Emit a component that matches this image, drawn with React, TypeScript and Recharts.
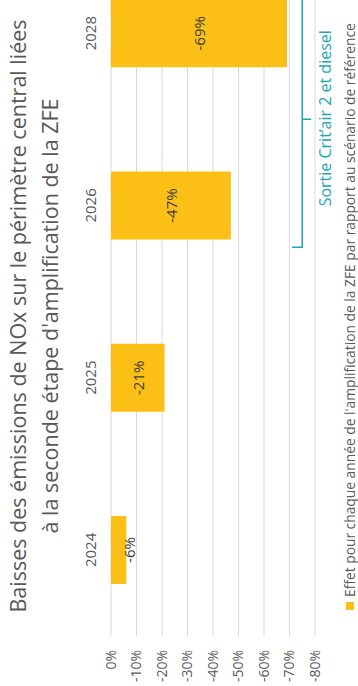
import React from "react";
import { BarChart, Bar, XAxis, YAxis, CartesianGrid } from "recharts";

const years = ["2024", "2025", "2026", "2028"];
const effects = [-6, -21, -47, -69];
const yTicks = [0, -10, -20, -30, -40, -50, -60, -70, -80];

const titleLines = [
  "Baisses des émissions de NOx sur le périmètre central liées",
  "à la seconde étape d'amplification de la ZFE",
];
const legendText =
  "Effet pour chaque année de l'amplification de la ZFE par rapport au scénario de référence";
const noteText = "Sortie Crit’air 2 et diesel";

const data = years.map((year, i) => ({ year, effect: effects[i] }));

// chart is drawn unrotated (W x H) and turned -90deg to fit the 358x686 frame
const W = 750;
const H = 358;
const FONT = "'Open Sans', sans-serif";
const GREY = "#595959";
const YELLOW = "#FBBF16";
const TEAL = "#1BA6B3";

const margin = { top: 81, right: 11, bottom: 43, left: 0 };
const xAxisHeight = 30;
const yAxisWidth = 50;
const plotLeft = margin.left + yAxisWidth;
const plotTop = margin.top + xAxisHeight;
const plotRight = W - margin.right;
const plotBottom = H - margin.bottom;
const band = (plotRight - plotLeft) / years.length;
const yOf = (v: number) => plotTop + (v / -80) * (plotBottom - plotTop);

function BarValue(props: any) {
  const { x, y, width, height, value } = props;
  const top = Math.min(y, y + height);
  const bottom = Math.max(y, y + height);
  const cy = Math.max((top + bottom) / 2, top + 18);
  return (
    <text
      x={x + width / 2}
      y={cy}
      textAnchor="middle"
      dominantBaseline="central"
      fontSize={15}
      fontFamily={FONT}
      fill="#404040"
    >
      {`${value}%`}
    </text>
  );
}

export default function App() {
  // bracket across the 2026 and 2028 bars
  const mid = plotLeft + 3 * band;
  const half = 128;
  const lineY = yOf(-75);
  return (
    <div
      style={{
        position: "absolute",
        left: 0,
        top: 0,
        width: 358,
        height: 686,
        overflow: "hidden",
        background: "#fff",
      }}
    >
      <div
        style={{
          position: "absolute",
          left: 0,
          top: 0,
          width: W,
          height: H,
          transformOrigin: "0 0",
          transform: "translateY(686px) rotate(-90deg)",
          fontFamily: FONT,
        }}
      >
        {titleLines.map((line, i) => (
          <div
            key={i}
            style={{
              position: "absolute",
              left: 0,
              width: 740,
              top: 2 + i * 32,
              lineHeight: "32px",
              fontSize: 21.5,
              color: GREY,
              textAlign: "center",
              whiteSpace: "nowrap",
            }}
          >
            {line}
          </div>
        ))}
        <BarChart width={W} height={H} data={data} margin={margin}>
          <CartesianGrid vertical={false} stroke="#D9D9D9" />
          <XAxis
            dataKey="year"
            orientation="top"
            height={xAxisHeight}
            axisLine={false}
            tickLine={false}
            tickSize={0}
            tickMargin={15}
            tick={{ fontSize: 15, fill: GREY, fontFamily: FONT }}
          />
          <YAxis
            width={yAxisWidth}
            domain={[-80, 0]}
            ticks={yTicks}
            axisLine={false}
            tickLine={false}
            tickSize={0}
            tickMargin={14}
            tickFormatter={(v: number) => `${v}%`}
            tick={{ fontSize: 14, fill: GREY, fontFamily: FONT }}
          />
          <Bar
            dataKey="effect"
            fill={YELLOW}
            barSize={68}
            isAnimationActive={false}
            label={<BarValue />}
          />
        </BarChart>
        <svg
          width={W}
          height={H}
          style={{ position: "absolute", left: 0, top: 0, pointerEvents: "none" }}
        >
          <path
            d={`M${mid - half},${yOf(-71)} V${lineY} H${mid + half} V${yOf(-71)} M${mid},${lineY} V${yOf(-78.5)}`}
            fill="none"
            stroke={TEAL}
            strokeWidth={1.5}
          />
          <text
            x={mid + 1}
            y={yOf(-84)}
            textAnchor="middle"
            dominantBaseline="central"
            fontSize={16}
            fontFamily={FONT}
            fill={TEAL}
          >
            {noteText}
          </text>
        </svg>
        {/* legend, kept outside the chart so its rotated box is not measured */}
        <div
          style={{
            position: "absolute",
            left: 76,
            top: 340,
            display: "flex",
            alignItems: "center",
            fontSize: 13.8,
            color: GREY,
            whiteSpace: "nowrap",
          }}
        >
          <span
            style={{
              display: "inline-block",
              width: 8,
              height: 8,
              background: YELLOW,
              marginRight: 5,
            }}
          />
          {legendText}
        </div>
      </div>
    </div>
  );
}
